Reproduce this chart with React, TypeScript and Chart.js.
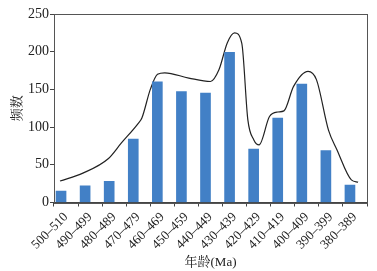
import React, { useEffect, useRef } from "react";
import { Chart, registerables } from "chart.js";

Chart.register(...registerables);

const categories = [
  "500–510", "490–499", "480–489", "470–479", "460–469", "450–459", "440–449",
  "430–439", "420–429", "410–419", "400–409", "390–399", "380–389",
];
const frequencies = [15, 22, 28, 84, 160, 147, 145, 199, 71, 112, 157, 69, 23];

// density curve, x in category-index units
const curveX = [-0.25, 0.7, 1.75, 2.3, 3.0, 3.15, 3.5, 3.8, 4.1, 5.1, 6.0, 6.35, 6.7, 7.0, 7.3, 7.55, 7.8, 8.02, 8.45, 8.8, 9.05, 9.45, 10.05, 10.4, 10.9, 11.25, 11.85, 12.13];
const curveY = [28.5, 39, 58, 79, 105, 112, 150, 170, 172, 165, 160.5, 176, 212, 225, 211, 110, 83, 76.5, 114, 120, 121.5, 154, 174, 163, 96, 70, 30, 27];

const yTicks = { min: 0, max: 250, step: 50 };

const font = "'Liberation Serif', 'Times New Roman', 'DejaVu Serif', 'Noto Serif CJK SC', 'Noto Sans CJK SC', serif";

export default function App() {
  const ref = useRef<HTMLCanvasElement>(null);
  useEffect(() => {
    document.body.style.margin = "0";
    let chart: any = null;
    let cancelled = false;
    const frame = {
      id: "frame",
      afterDatasetsDraw(c: any) {
        const { ctx, chartArea: a } = c;
        ctx.save();
        ctx.strokeStyle = "#555";
        ctx.lineWidth = 1;
        ctx.strokeRect(Math.round(a.left) + 0.5, Math.round(a.top) + 0.5, Math.round(a.right - a.left), Math.round(a.bottom - a.top));
        ctx.restore();
      },
    };
    const build = () => {
      if (cancelled) return;
      chart = new Chart(ref.current!, {
        type: "bar",
        data: {
          labels: categories,
          datasets: [
            {
              type: "bar",
              data: frequencies,
              backgroundColor: "#4280c6",
              barThickness: 10,
              xAxisID: "x",
            } as any,
            {
              type: "line",
              data: curveX.map((x, i) => ({ x, y: curveY[i] })),
              borderColor: "#222",
              borderWidth: 1.2,
              pointRadius: 0,
              cubicInterpolationMode: "monotone",
              fill: false,
              xAxisID: "x2",
            } as any,
          ],
        },
        options: {
          animation: false,
          responsive: false,
          events: [],
          layout: { padding: { top: 14, right: 10, left: 0, bottom: 0 } },
          plugins: { legend: { display: false }, tooltip: { enabled: false } },
          scales: {
            x: {
              type: "category",
              offset: true,
              grid: { display: true, drawOnChartArea: false, drawTicks: true, tickLength: 4, color: "#444", offset: true },
              border: { display: true, color: "#444" },
              ticks: { autoSkip: false, color: "#222", minRotation: 45, maxRotation: 45, padding: 3, font: { family: font, size: 13 } },
              title: { display: true, text: "年龄(Ma)", color: "#222", font: { family: font, size: 13 }, padding: { top: 0, bottom: 1 } },
              afterFit: (s: any) => { s.height = 68.5; },
            },
            x2: { type: "linear", display: false, offset: false, min: -0.5, max: 12.5, grid: { offset: false } },
            y: {
              min: yTicks.min,
              max: yTicks.max,
              ticks: { stepSize: yTicks.step, color: "#222", padding: 1, font: { family: font, size: 14 } },
              grid: { display: true, drawOnChartArea: false, drawTicks: true, tickLength: 4, color: "#444" },
              border: { display: true, color: "#444" },
              title: { display: true, text: "频数", color: "#222", font: { family: font, size: 13 }, padding: { top: 10, bottom: 0 } },
              afterFit: (s: any) => { s.width = 54; },
            },
          },
        },
        plugins: [frame],
      });
    };
    const fonts: any = (document as any).fonts;
    if (fonts && fonts.load) {
      Promise.all([
        fonts.load("12px 'Liberation Serif'"),
        fonts.load("12px 'Times New Roman'"),
        fonts.load("13px 'Noto Sans CJK SC'", "年龄频数"),
      ]).then(build, build);
    } else build();
    return () => {
      cancelled = true;
      if (chart) chart.destroy();
    };
  }, []);
  return (
    <div style={{ position: "absolute", left: 0, top: 0, width: 377, height: 271, background: "#fff" }}>
      <canvas ref={ref} width={377} height={271} style={{ width: 377, height: 271 }} />
    </div>
  );
}
